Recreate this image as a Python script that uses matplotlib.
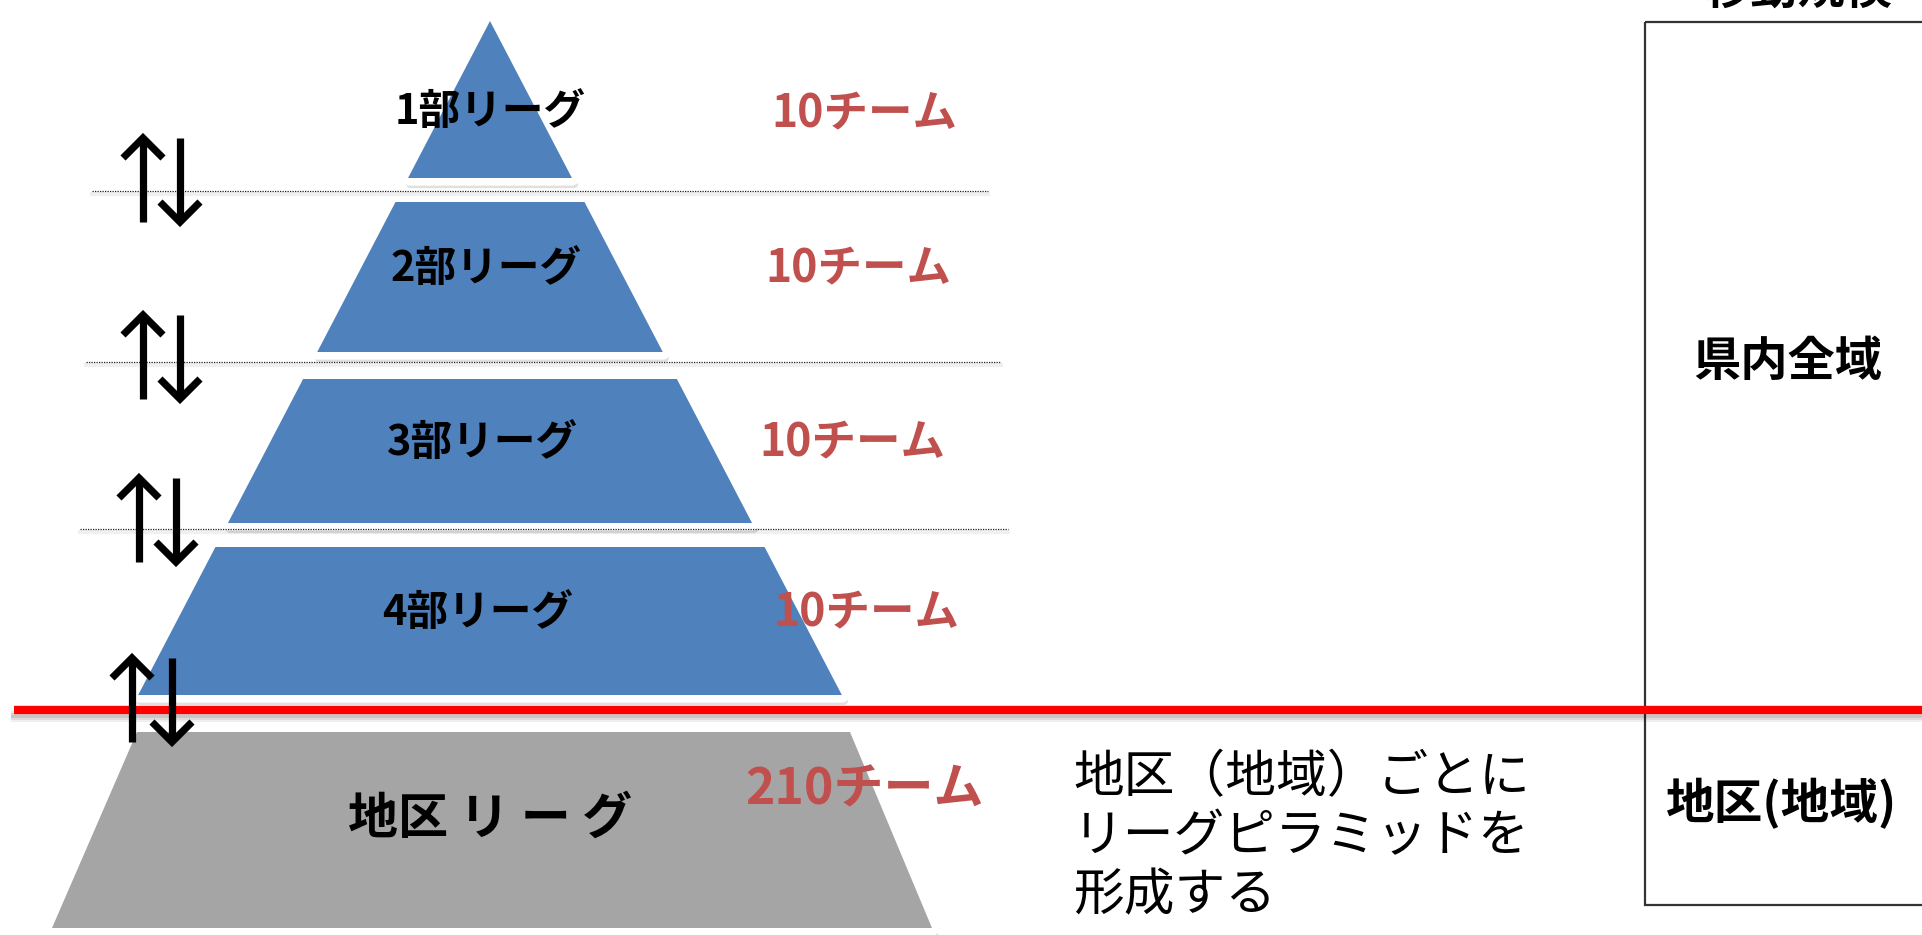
import matplotlib
matplotlib.use("Agg")
import matplotlib.pyplot as plt
from matplotlib.patches import Polygon, Rectangle

plt.rcParams['font.family'] = ['Noto Sans CJK JP', 'DejaVu Sans']

# データ
league_names = ['1部リーグ', '2部リーグ', '3部リーグ', '4部リーグ']
league_teams = ['10チーム', '10チーム', '10チーム', '10チーム']
district_name = '地区 リ ー グ'
district_teams = '210チーム'
district_note = '地区（地域）ごとに\nリーグピラミッドを\n形成する'
scope_title = '移動規模'
scope_labels = ['県内全域', '地区(地域)']

# レイアウト (ピクセル座標)
W, H = 1922, 935
apex_x, apex_y = 490, 21
slope = 0.522
tier_top = [21, 202, 379, 547]
tier_bot = [178, 352, 523, 695]
team_x = [864, 858, 852, 866]
sep_y = [191, 362, 529]
sep_x = [(92, 988), (86, 1001), (80, 1008)]
arrows = [(143, 180, 138), (143, 180, 315), (139, 176, 478), (132, 172, 658)]

BLUE = '#4F81BD'
GRAY = '#A5A5A5'
RED_TXT = '#C0504D'

fig = plt.figure(figsize=(W / 100, H / 100), dpi=100)
ax = fig.add_axes([0, 0, 1, 1])
ax.set_xlim(0, W)
ax.set_ylim(H, 0)
ax.axis('off')


def shape(pts, color):
    # 影 → 白枠 → 本体
    shadow = [(x + 2, y + 6) for x, y in pts]
    ax.add_patch(Polygon(shadow, closed=True, fc='#000000', ec='#000000', lw=6,
                         alpha=0.12, joinstyle='round', zorder=1))
    ax.add_patch(Polygon(pts, closed=True, fc='white', ec='white', lw=11, joinstyle='round', zorder=2))
    ax.add_patch(Polygon(pts, closed=True, fc=color, ec='none', zorder=2.5))


# ピラミッド
for i, name in enumerate(league_names):
    t, b = tier_top[i], tier_bot[i]
    lt = apex_x - slope * (t - apex_y)
    rt = apex_x + slope * (t - apex_y)
    lb = apex_x - slope * (b - apex_y)
    rb = apex_x + slope * (b - apex_y)
    if i == 0:
        pts = [(apex_x, t), (lb, b), (rb, b)]
    else:
        pts = [(lt, t), (rt, t), (rb, b), (lb, b)]
    shape(pts, BLUE)
    cy = (t + b) / 2 + (12 if i == 0 else -8)
    ax.text(apex_x - 4 * i, cy, name, fontsize=30, fontweight='bold', ha='center', va='center', zorder=5)
    ax.text(team_x[i], cy + (3 if i == 0 else 0), league_teams[i], fontsize=32, fontweight='bold',
            color=RED_TXT, ha='center', va='center', zorder=5)

# 地区リーグ
shape([(137, 732), (850, 732), (932, 928), (52, 928)], GRAY)
ax.text(490, 819, district_name, fontsize=36, fontweight='bold', ha='center', va='center', zorder=5)
ax.text(865, 790, district_teams, fontsize=36, fontweight='bold', color=RED_TXT,
        ha='center', va='center', zorder=5)

# 点線
for y, (x0, x1) in zip(sep_y, sep_x):
    ax.plot([x0, x1], [y + 3, y + 3], color='#000000', lw=3, alpha=0.06, zorder=3)
    ax.plot([x0, x1], [y, y], color='#222222', lw=0.9, ls=(0, (1, 1)), zorder=3)

# 赤線
for off, a in [(8, 0.06), (6, 0.08), (4, 0.1)]:
    ax.plot([14, W], [710 + off, 710 + off], color='#000000', lw=5, alpha=a, zorder=6)
ax.plot([14, W], [710, 710], color='#FF0000', lw=6, solid_capstyle='butt', zorder=7)

# 矢印
for xu, xd, top in arrows:
    bot = top + 84
    kw = dict(color='black', lw=5.2, solid_capstyle='butt', solid_joinstyle='miter', zorder=8)
    ax.plot([xu, xu], [bot, top + 3], **kw)
    ax.plot([xu - 20, xu, xu + 20], [top + 20, top, top + 20], **kw)
    ax.plot([xd, xd], [top, bot - 3], **kw)
    ax.plot([xd - 20, xd, xd + 20], [bot - 20, bot, bot - 20], **kw)

# 説明文
ax.text(1073, 752, district_note, fontsize=36.5, ha='left', va='top', linespacing=1.18, zorder=5)

# 右の枠
ax.add_patch(Rectangle((1645, 22), 400, 883, fc='none', ec='#333333', lw=1.6, zorder=4))
ax.text(1798, 14, scope_title, fontsize=34, fontweight='bold', ha='center', va='bottom', zorder=5)
ax.text(1788, 362, scope_labels[0], fontsize=34, fontweight='bold', ha='center', va='center', zorder=5)
ax.text(1782, 804, scope_labels[1], fontsize=35, fontweight='bold', ha='center', va='center', zorder=5)

fig.savefig('out.png', dpi=100)
